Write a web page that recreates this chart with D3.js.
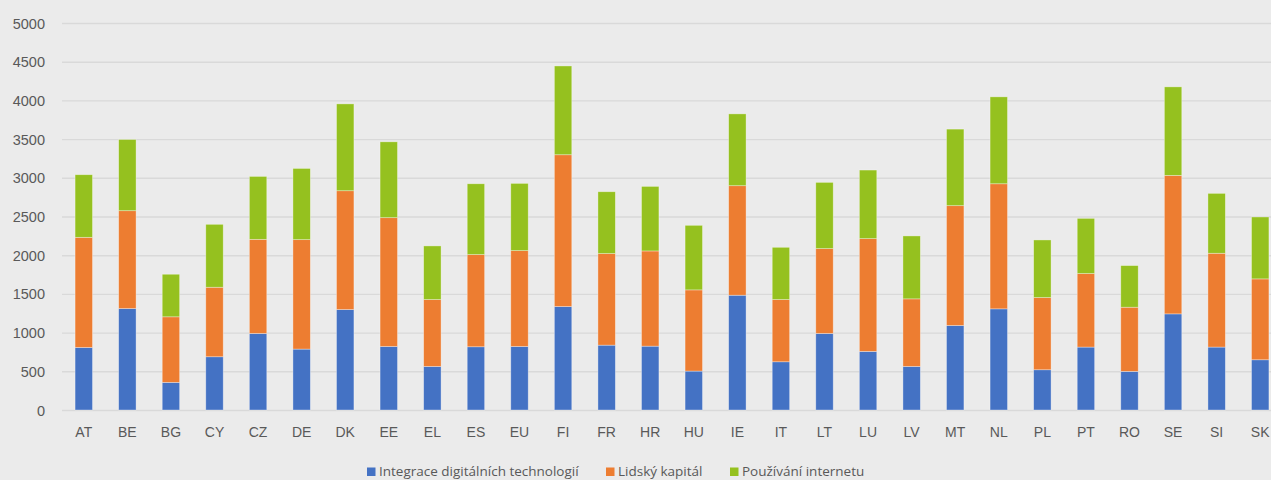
<!DOCTYPE html>
<html>
<head>
<meta charset="utf-8">
<script src="https://cdn.jsdelivr.net/npm/d3@7"></script>
<style>
  html, body { margin: 0; padding: 0; background: #ebebeb; }
  svg { display: block; font-family: "Open Sans", "Noto Sans", sans-serif; }
</style>
</head>
<body>
<svg id="chart" width="1271" height="480"></svg>
<script>
const categories = ["AT","BE","BG","CY","CZ","DE","DK","EE","EL","ES","EU","FI","FR","HR","HU","IE","IT","LT","LU","LV","MT","NL","PL","PT","RO","SE","SI","SK"];
const seriesNames = ["Integrace digitálních technologií","Lidský kapitál","Používání internetu"];
const integrace = [808,1311,357,688,989,787,1298,821,563,817,821,1337,838,825,503,1483,623,989,757,563,1092,1307,520,813,499,1242,813,649];
const lidsky    = [1423,1264,847,898,1216,1414,1535,1664,864,1191,1238,1961,1183,1230,1049,1415,804,1096,1457,873,1548,1616,933,950,829,1789,1212,1045];
const internet  = [809,920,550,813,813,920,1122,980,693,915,869,1147,799,834,834,928,675,856,886,813,989,1123,744,713,538,1144,774,800];
const yTicks = [0,500,1000,1500,2000,2500,3000,3500,4000,4500,5000];
const colors = ["#4472c4","#ed7d31","#95c11f"];

const svg = d3.select("#chart");
const margin = {left: 62, top: 23, bottom: 410};
const plotRight = 1282;

const x = d3.scaleBand().domain(categories).range([margin.left, plotRight]).paddingInner(0.6).paddingOuter(0.3);
const y = d3.scaleLinear().domain([0, 5000]).range([margin.bottom, margin.top]);

svg.append("rect").attr("width", 1271).attr("height", 480).attr("fill", "#ebebeb");

// gridlines
const yAxis = d3.axisLeft(y).tickValues(yTicks).tickSize(-(plotRight - margin.left)).tickPadding(17).tickFormat(d3.format("d"));
const gy = svg.append("g").attr("transform", `translate(${margin.left},0)`).call(yAxis);
gy.select(".domain").remove();
gy.selectAll(".tick line").attr("stroke", "#d9d9d9").attr("stroke-width", 1.4);
gy.selectAll(".tick text").attr("fill", "#595959").style("font-size", "14.5px").attr("dy", "0.35em");

// stacked data
const rows = categories.map((c, i) => ({cat: c, s0: integrace[i], s1: lidsky[i], s2: internet[i]}));
const stack = d3.stack().keys(["s0","s1","s2"]);
const layers = stack(rows);

svg.append("g").selectAll("g").data(layers).join("g")
  .attr("fill", (d, i) => colors[i])
  .selectAll("rect").data(d => d).join("rect")
  .attr("x", d => x(d.data.cat))
  .attr("width", x.bandwidth())
  .attr("y", d => y(d[1]))
  .attr("height", d => y(d[0]) - y(d[1]))
  .attr("stroke", "rgba(255,255,255,0.45)")
  .attr("stroke-width", 0.75);

// x axis
const xAxis = d3.axisBottom(x).tickSize(0).tickPadding(17);
const gx = svg.append("g").attr("transform", `translate(0,${margin.bottom})`).call(xAxis);
gx.select(".domain").remove();
gx.selectAll(".tick text").attr("fill", "#595959").style("font-size", "14px");

// legend
const legendX = [367, 606, 730];
const lg = svg.append("g").selectAll("g").data(seriesNames).join("g")
  .attr("transform", (d, i) => `translate(${legendX[i]},467.5)`);
lg.append("rect").attr("width", 8.5).attr("height", 8.5).attr("fill", (d, i) => colors[i]);
lg.append("text").attr("x", 12).attr("y", 8.7).attr("fill", "#595959").style("font-size", "13.5px").text(d => d);
</script>
</body>
</html>
